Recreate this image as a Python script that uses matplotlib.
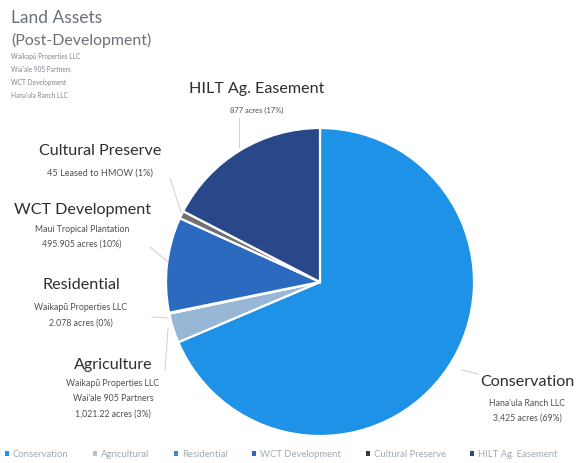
import matplotlib.pyplot as plt
from matplotlib.patches import Patch

# slice shares (clockwise from 12 o'clock)
categories = ['Conservation', 'Agricultural', 'Residential', 'WCT Development',
              'Cultural Preserve', 'HILT Ag. Easement']
shares = [68.6, 3.1, 0.1, 10.0, 0.8, 17.4]
colors = ['#1d92e6', '#98b6d6', '#3b86d6', '#2b6abf', '#707173', '#29488a']

label_titles = ['Conservation', 'Agriculture', 'Residential', 'WCT Development',
                'Cultural Preserve', 'HILT Ag. Easement']
label_details = [
    ["Hana'ula Ranch LLC", "3,425 acres (69%)"],
    ["Waikapū Properties LLC", "Wai'ale 905 Partners", "1,021.22 acres (3%)"],
    ["Waikapū Properties LLC", "2.078 acres (0%)"],
    ["Maui Tropical Plantation", "495.905 acres (10%)"],
    ["45 Leased to HMOW (1%)"],
    ["877 acres (17%)"],
]
owners = ["Waikapū Properties LLC", "Wai'ale 905 Partners", "WCT Development",
          "Hana'ula Ranch LLC"]

W, H = 583, 463
plt.rcParams['font.family'] = ['Lato', 'DejaVu Sans']

fig = plt.figure(figsize=(W / 100, H / 100), dpi=100)
ax = fig.add_axes([0, 0, 1, 1])


def py(y):
    # picture rows are counted from the top
    return H - y


wedges, _ = ax.pie(shares, colors=colors, startangle=90, counterclock=False,
                   center=(320, py(282)), radius=154,
                   wedgeprops=dict(edgecolor='white', linewidth=1.6))
ax.set_xlim(0, W)
ax.set_ylim(0, H)
ax.set_aspect('equal')
ax.axis('off')

# label blocks: (x centre, title row, first detail row, detail size)
label_pos = [
    (527, 382, 403, 6.3),
    (113, 365, 383, 6.3),
    (81, 285, 308, 6.3),
    (82, 210, 229, 6.3),
    (100, 151, 173, 6.6),
    (257, 89, 110, 5.4),
]
for (x, yt, yd, fs), title, detail in zip(label_pos, label_titles, label_details):
    ax.text(x, py(yt), title, ha='center', va='center', fontsize=11.6,
            color='#2e2e2e')
    for i, line in enumerate(detail):
        ax.text(x, py(yd + 15.5 * i), line, ha='center', va='center',
                fontsize=fs, color='#505050')

# leader lines
leaders = [
    ((462, 370), (478, 374)),
    ((165, 370), (168, 328)),
    ((152, 317), (168, 318)),
    ((150, 247), (168, 262)),
    ((170, 178), (181, 212)),
    ((239, 118), (239, 147)),
]
for (x0, y0), (x1, y1) in leaders:
    ax.plot([x0, x1], [py(y0), py(y1)], color='#c8d0d8', lw=0.7)

ax.text(11, py(18), 'Land Assets', fontsize=12.5, color='#6a7078', va='center')
ax.text(11, py(40), '(Post-Development)', fontsize=11.4, color='#6a7078',
        va='center')
for i, name in enumerate(owners):
    ax.text(11, py(57 + 13 * i), name, fontsize=4.7, color='#7f868e',
            va='center')

legend_colors = ['#1d92e6', '#b8c4ce', '#3b86d6', '#2b6abf', '#3a3a3a', '#29488a']
handles = [Patch(facecolor=c, edgecolor='none') for c in legend_colors]
ax.legend(handles, categories, loc='center left', bbox_to_anchor=(0.0, 0.019),
          ncol=6, frameon=False, fontsize=6.8, handlelength=0.4,
          handleheight=0.4, handletextpad=0.45, columnspacing=2.6,
          labelcolor='#a0aab4', borderpad=0, borderaxespad=0.5)

fig.savefig('out.png', dpi=100, facecolor='white')
